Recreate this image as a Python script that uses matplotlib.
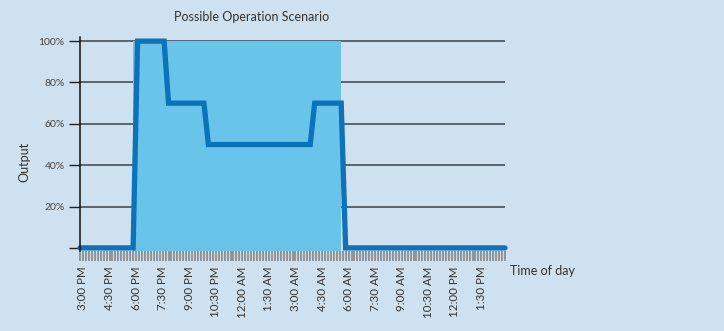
import matplotlib
matplotlib.use("Agg")
import matplotlib.pyplot as plt
import matplotlib.transforms as mtransforms
import numpy as np

plt.rcParams['font.family'] = ['Lato', 'DejaVu Sans']

# Output profile breakpoints (clock time, percent of capacity)
times = ["3:00 PM", "6:00 PM", "6:15 PM", "7:45 PM", "8:00 PM", "10:00 PM",
         "10:15 PM", "4:00 AM", "4:15 AM", "5:45 AM", "6:00 AM", "3:00 PM"]
output = [0, 0, 100, 100, 70, 70, 50, 50, 70, 70, 0, 0]

# Operating window shaded behind the profile
window = ["6:00 PM", "5:45 AM"]
window_level = 100

tick_labels = ["3:00 PM", "4:30 PM", "6:00 PM", "7:30 PM", "9:00 PM", "10:30 PM",
               "12:00 AM", "1:30 AM", "3:00 AM", "4:30 AM", "6:00 AM", "7:30 AM",
               "9:00 AM", "10:30 AM", "12:00 PM", "1:30 PM"]
y_ticks = [0, 20, 40, 60, 80, 100]
y_labels = ["", "20%", "40%", "60%", "80%", "100%"]


def clock_hours(label):
    t, ampm = label.split()
    h, m = (int(v) for v in t.split(":"))
    h = h % 12 + (12 if ampm == "PM" else 0)
    return h + m / 60.0


def hours_since_start(labels, start=15.0):
    out, prev = [], -1.0
    for lab in labels:
        v = (clock_hours(lab) - start) % 24
        while v < prev:
            v += 24
        out.append(v)
        prev = v
    return out


x = hours_since_start(times)
wx = hours_since_start(window)
tx = hours_since_start(tick_labels)

bg = "#cfe1ee"
fig = plt.figure(figsize=(7.24, 3.31), dpi=100, facecolor=bg)
ax = fig.add_axes([80 / 724, 1 - 251 / 331, 425 / 724, 214 / 331])
ax.set_facecolor(bg)

ax.set_xlim(0, 24)
ax.set_ylim(-1.5, 102)

# gridlines
for v in y_ticks[1:]:
    ax.axhline(v, color="#3a434c", lw=1.1, zorder=1)

ax.fill_between(wx, -1.5, window_level, color="#68c4e9", lw=0, zorder=2)

ax.plot(x, output, color="#0b72bb", lw=3.8, solid_capstyle="round",
        solid_joinstyle="miter", zorder=3, clip_on=False)

for s in ["top", "right", "bottom"]:
    ax.spines[s].set_visible(False)
ax.spines["left"].set_color("#111111")
ax.spines["left"].set_linewidth(1.1)
ax.spines["left"].set_zorder(4)

ax.set_yticks(y_ticks)
ax.set_yticklabels(y_labels)
ax.tick_params(axis="y", length=8, width=1.0, color="#222222", labelsize=7.5,
               labelcolor="#444444", pad=3)

# dense tick band along the time axis
ax.set_xticks(tx)
ax.set_xticklabels(tick_labels, rotation=90, fontsize=8.3, color="#333333")
ax.set_xticks(np.arange(0, 24.01, 1 / 6), minor=True)
ax.tick_params(axis="x", which="minor", length=7, width=1.3, color="#8c8c8c")
ax.tick_params(axis="x", which="major", length=7, width=1.3, color="#8c8c8c", pad=4)
shift = mtransforms.ScaledTranslation(3 / 100, 0, fig.dpi_scale_trans)
for lab in ax.get_xticklabels():
    lab.set_transform(lab.get_transform() + shift)

fig.text(252 / 724, 1 - 17 / 331, "Possible Operation Scenario", ha="center",
         va="center", fontsize=9, color="#333333")
fig.text(24 / 724, 1 - 162 / 331, "Output", ha="center", va="center",
         rotation=90, fontsize=9, color="#333333")
fig.text(510 / 724, 1 - 271 / 331, "Time of day", ha="left", va="center",
         fontsize=9, color="#333333")

fig.savefig("out.png", dpi=100, facecolor=bg)
